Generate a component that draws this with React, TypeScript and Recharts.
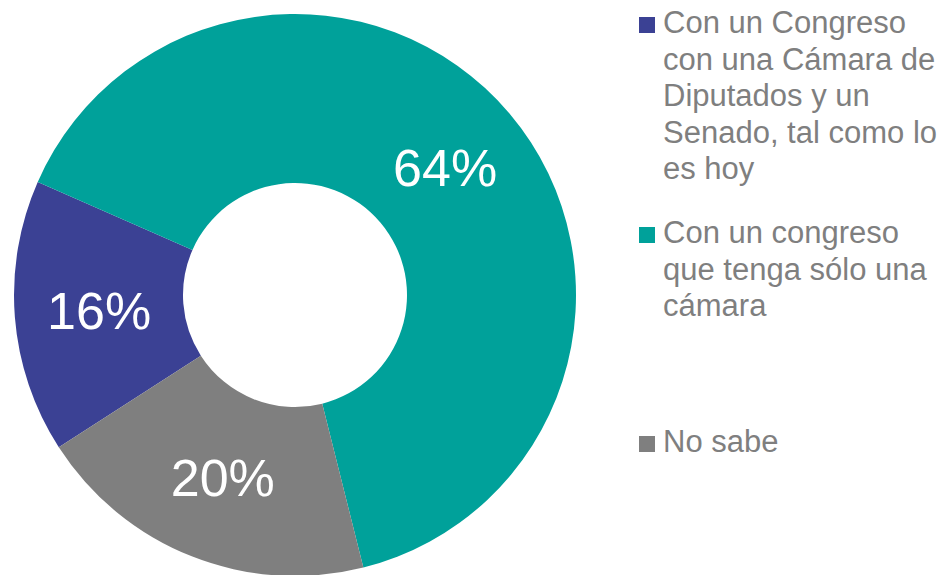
import { Cell, Pie, PieChart } from "recharts";

const CATEGORIES = [
  "Con un Congreso con una Cámara de Diputados y un Senado, tal como lo es hoy",
  "Con un congreso que tenga sólo una cámara",
  "No sabe",
];
const VALUES = [15.7, 64.5, 19.8];
const VALUE_LABELS = ["16%", "64%", "20%"];
const LEGEND_LINES = [
  ["Con un Congreso", "con una Cámara de", "Diputados y un", "Senado, tal como lo", "es hoy"],
  ["Con un congreso", "que tenga sólo una", "cámara"],
  ["No sabe"],
];
const COLORS = ["#3B4194", "#00A19A", "#7F7F7F"];

const FONT = "Arial, 'Liberation Sans', sans-serif";
const RAD = Math.PI / 180;

const data = CATEGORIES.map((name, i) => ({ name, value: VALUES[i] }));

// legend item tops (px) in the right column
const LEGEND_TOPS = [5, 215, 424];

function renderLabel(props: any) {
  const { cx, cy, midAngle, innerRadius, outerRadius, index } = props;
  const r = (innerRadius + outerRadius) / 2;
  const x = cx + r * Math.cos(-midAngle * RAD);
  const y = cy + r * Math.sin(-midAngle * RAD);
  return (
    <text
      x={x}
      y={y}
      fill="#fff"
      textAnchor="middle"
      dominantBaseline="central"
      fontFamily={FONT}
      fontSize={52}
    >
      {VALUE_LABELS[index]}
    </text>
  );
}

export default function App() {
  return (
    <div
      style={{
        position: "fixed",
        top: 0,
        left: 0,
        width: 948,
        height: 575,
        background: "#fff",
        overflow: "hidden",
      }}
    >
      <PieChart width={600} height={575} margin={{ top: 0, right: 0, bottom: 0, left: 0 }}>
        <Pie
          data={data}
          dataKey="value"
          nameKey="name"
          cx={295}
          cy={295}
          innerRadius={112}
          outerRadius={281}
          startAngle={-147.2}
          endAngle={-507.2}
          stroke="none"
          label={renderLabel}
          labelLine={false}
          isAnimationActive={false}
        >
          {data.map((d, i) => (
            <Cell key={d.name} fill={COLORS[i]} />
          ))}
        </Pie>
      </PieChart>

      {LEGEND_LINES.map((lines, i) => (
        <div
          key={CATEGORIES[i]}
          style={{
            position: "absolute",
            left: 639,
            top: LEGEND_TOPS[i],
            display: "flex",
            alignItems: "flex-start",
          }}
        >
          <span
            style={{
              width: 16,
              height: 16,
              marginTop: 12,
              marginRight: 8,
              background: COLORS[i],
              flex: "none",
            }}
          />
          <div
            style={{
              fontFamily: FONT,
              fontSize: 31,
              lineHeight: "36.5px",
              color: "#7F7F7F",
              whiteSpace: "nowrap",
            }}
          >
            {lines.map((l) => (
              <div key={l}>{l}</div>
            ))}
          </div>
        </div>
      ))}
    </div>
  );
}
